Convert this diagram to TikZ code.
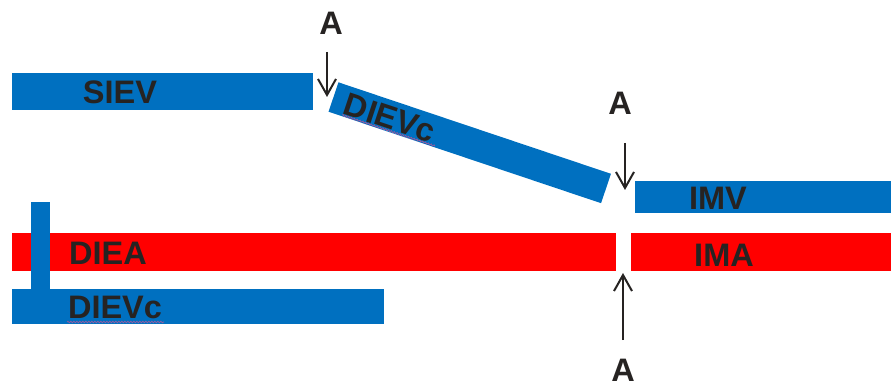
\documentclass[tikz,border=0pt]{standalone}
\usepackage{fontspec}
\setmainfont{Liberation Sans}
\usetikzlibrary{arrows.meta,decorations.pathmorphing}
\definecolor{vein}{HTML}{0070C0}
\definecolor{artery}{HTML}{FF0000}
\definecolor{ink}{HTML}{262322}
\definecolor{squiggle}{HTML}{9A5A9E}
\tikzset{
  vessel/.style={fill=#1, draw=none},
  lbl/.style={text=ink, font=\fontsize{32.5}{38}\selectfont\bfseries, inner sep=0pt, anchor=base},
  cut/.style={draw=ink, line width=2pt, -{Straight Barb[length=16pt,width=18pt,line width=2pt]}},
  wavy/.style={draw=squiggle, line width=0.7pt, decorate,
    decoration={snake, amplitude=0.8pt, segment length=3pt}}
}
\begin{document}
\begin{tikzpicture}[x=1pt,y=-1pt]
  \useasboundingbox (0,0) rectangle (891,387);
  % horizontal vessels
  \fill[vessel=vein]   (12,73)  rectangle (313,110);
  \fill[vessel=vein]   (635,181) rectangle (891,213);
  \fill[vessel=artery] (12,233) rectangle (616,271);
  \fill[vessel=artery] (631,233) rectangle (891,271);
  \fill[vessel=vein]   (12,289) rectangle (384,324);
  \fill[vessel=vein]   (31,202) rectangle (50,290);
  % oblique segment
  \coordinate (obA) at (333.5,97);
  \coordinate (obB) at (606,188.5);
  \draw[vein, line width=31pt] (obA) -- (obB);
  % labels
  \node[lbl] (siev) at (120,104) {SIEV};
  \node[lbl] (diea) at (108,265) {DIEA};
  \node[lbl] (dievb) at (115,318) {DIEVc};
  \node[lbl] (imv) at (718,210) {IMV};
  \node[lbl] (ima) at (724,266) {IMA};
  \node[text=ink, font=\fontsize{32.5}{38}\selectfont\bfseries, inner sep=0pt,
        rotate=-18.4] (dieva) at (390,118) {DIEVc};
  % spelling marks under the c-labels
  \draw[wavy] (67,322) -- (164,322);
  \draw[wavy] (342,115) -- (435,146);
  % section markers
  \node[lbl] (a1) at (331,35) {A};
  \node[lbl] (a2) at (620,115) {A};
  \node[lbl] (a3) at (623,381) {A};
  \coordinate (t1) at (327,97);
  \coordinate (t2) at (625,190);
  \coordinate (t3) at (623,273);
  \draw[cut] (327,52) -- (t1);
  \draw[cut] (625,143) -- (t2);
  \draw[cut] (623,340) -- (t3);
\end{tikzpicture}
\end{document}
